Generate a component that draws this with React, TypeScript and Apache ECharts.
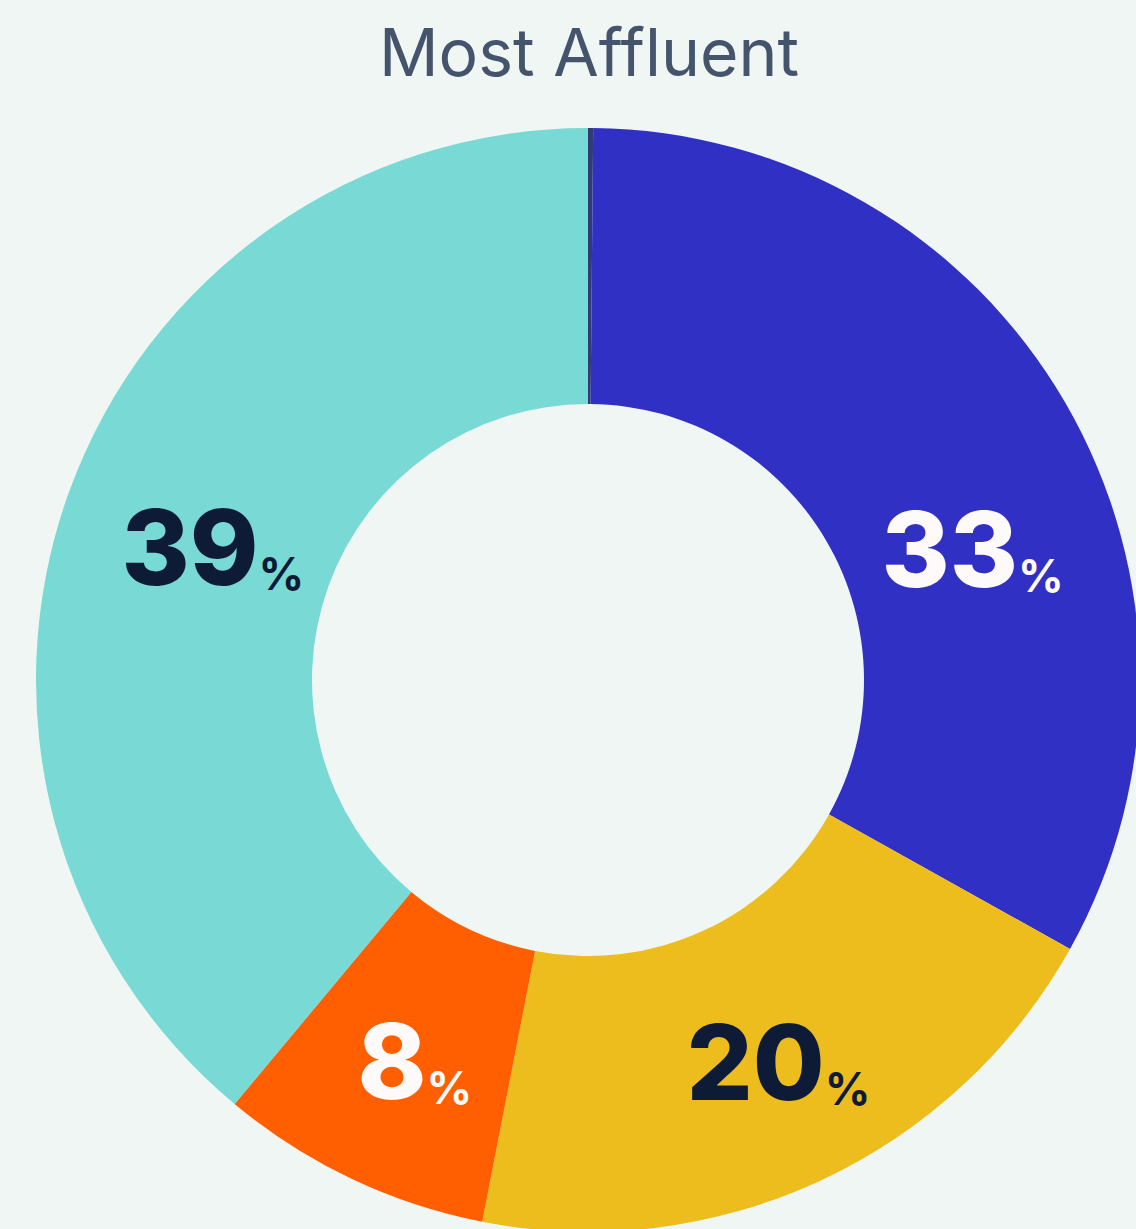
import React, { useEffect, useRef } from "react";
import * as echarts from "echarts";

const titleText = "Most Affluent";
const categories = ["Other", "Segment A", "Segment B", "Segment C", "Segment D"];
const values = [0.15, 33, 20, 8, 39];
const labelsShown = ["", "33", "20", "8", "39"];
const sliceColors = ["#333a78", "#3130c4", "#ecbd1c", "#ff5f00", "#79d9d4"];
const labelColors = ["#ffffff", "#fffafa", "#0d1b36", "#fffafa", "#0d1b36"];
const labelOffsets: number[][] = [[0, 0], [24, 78], [15, 4], [6, 4], [17, 9]];

export default function App() {
  const ref = useRef<HTMLDivElement>(null);
  useEffect(() => {
    document.body.style.margin = "0";
    document.body.style.background = "#f0f6f4";
    const chart = echarts.init(ref.current!, undefined, { renderer: "svg" });
    const data = categories.map((name, i) => ({
      name,
      value: values[i],
      itemStyle: { color: sliceColors[i] },
      label: {
        show: labelsShown[i] !== "",
        offset: labelOffsets[i],
        formatter: () => `{n|${labelsShown[i]}}{p|%}`,
        rich: {
          n: {
            fontFamily: "Inter",
            fontWeight: 800,
            fontSize: 104,
            lineHeight: 104,
            color: labelColors[i],
            verticalAlign: "bottom",
          },
          p: {
            fontFamily: "Inter",
            fontWeight: 700,
            fontSize: 45,
            lineHeight: 45,
            color: labelColors[i],
            verticalAlign: "bottom",
            padding: [0, 0, 3, 0],
          },
        },
      },
    }));
    chart.setOption({
      animation: false,
      backgroundColor: "#f0f6f4",
      title: {
        text: titleText,
        left: 374,
        top: 14,
        textStyle: {
          fontFamily: "Inter",
          fontWeight: 400,
          fontSize: 66,
          color: "#44546c",
        },
      },
      series: [
        {
          type: "pie",
          center: [588, 680],
          radius: [276, 552],
          startAngle: 90,
          clockwise: true,
          avoidLabelOverlap: false,
          label: { position: "inside" },
          labelLine: { show: false },
          emphasis: { disabled: true },
          itemStyle: { borderWidth: 0 },
          data,
        },
      ],
    });
    return () => chart.dispose();
  }, []);
  return <div ref={ref} style={{ width: 1136, height: 1229 }} />;
}
